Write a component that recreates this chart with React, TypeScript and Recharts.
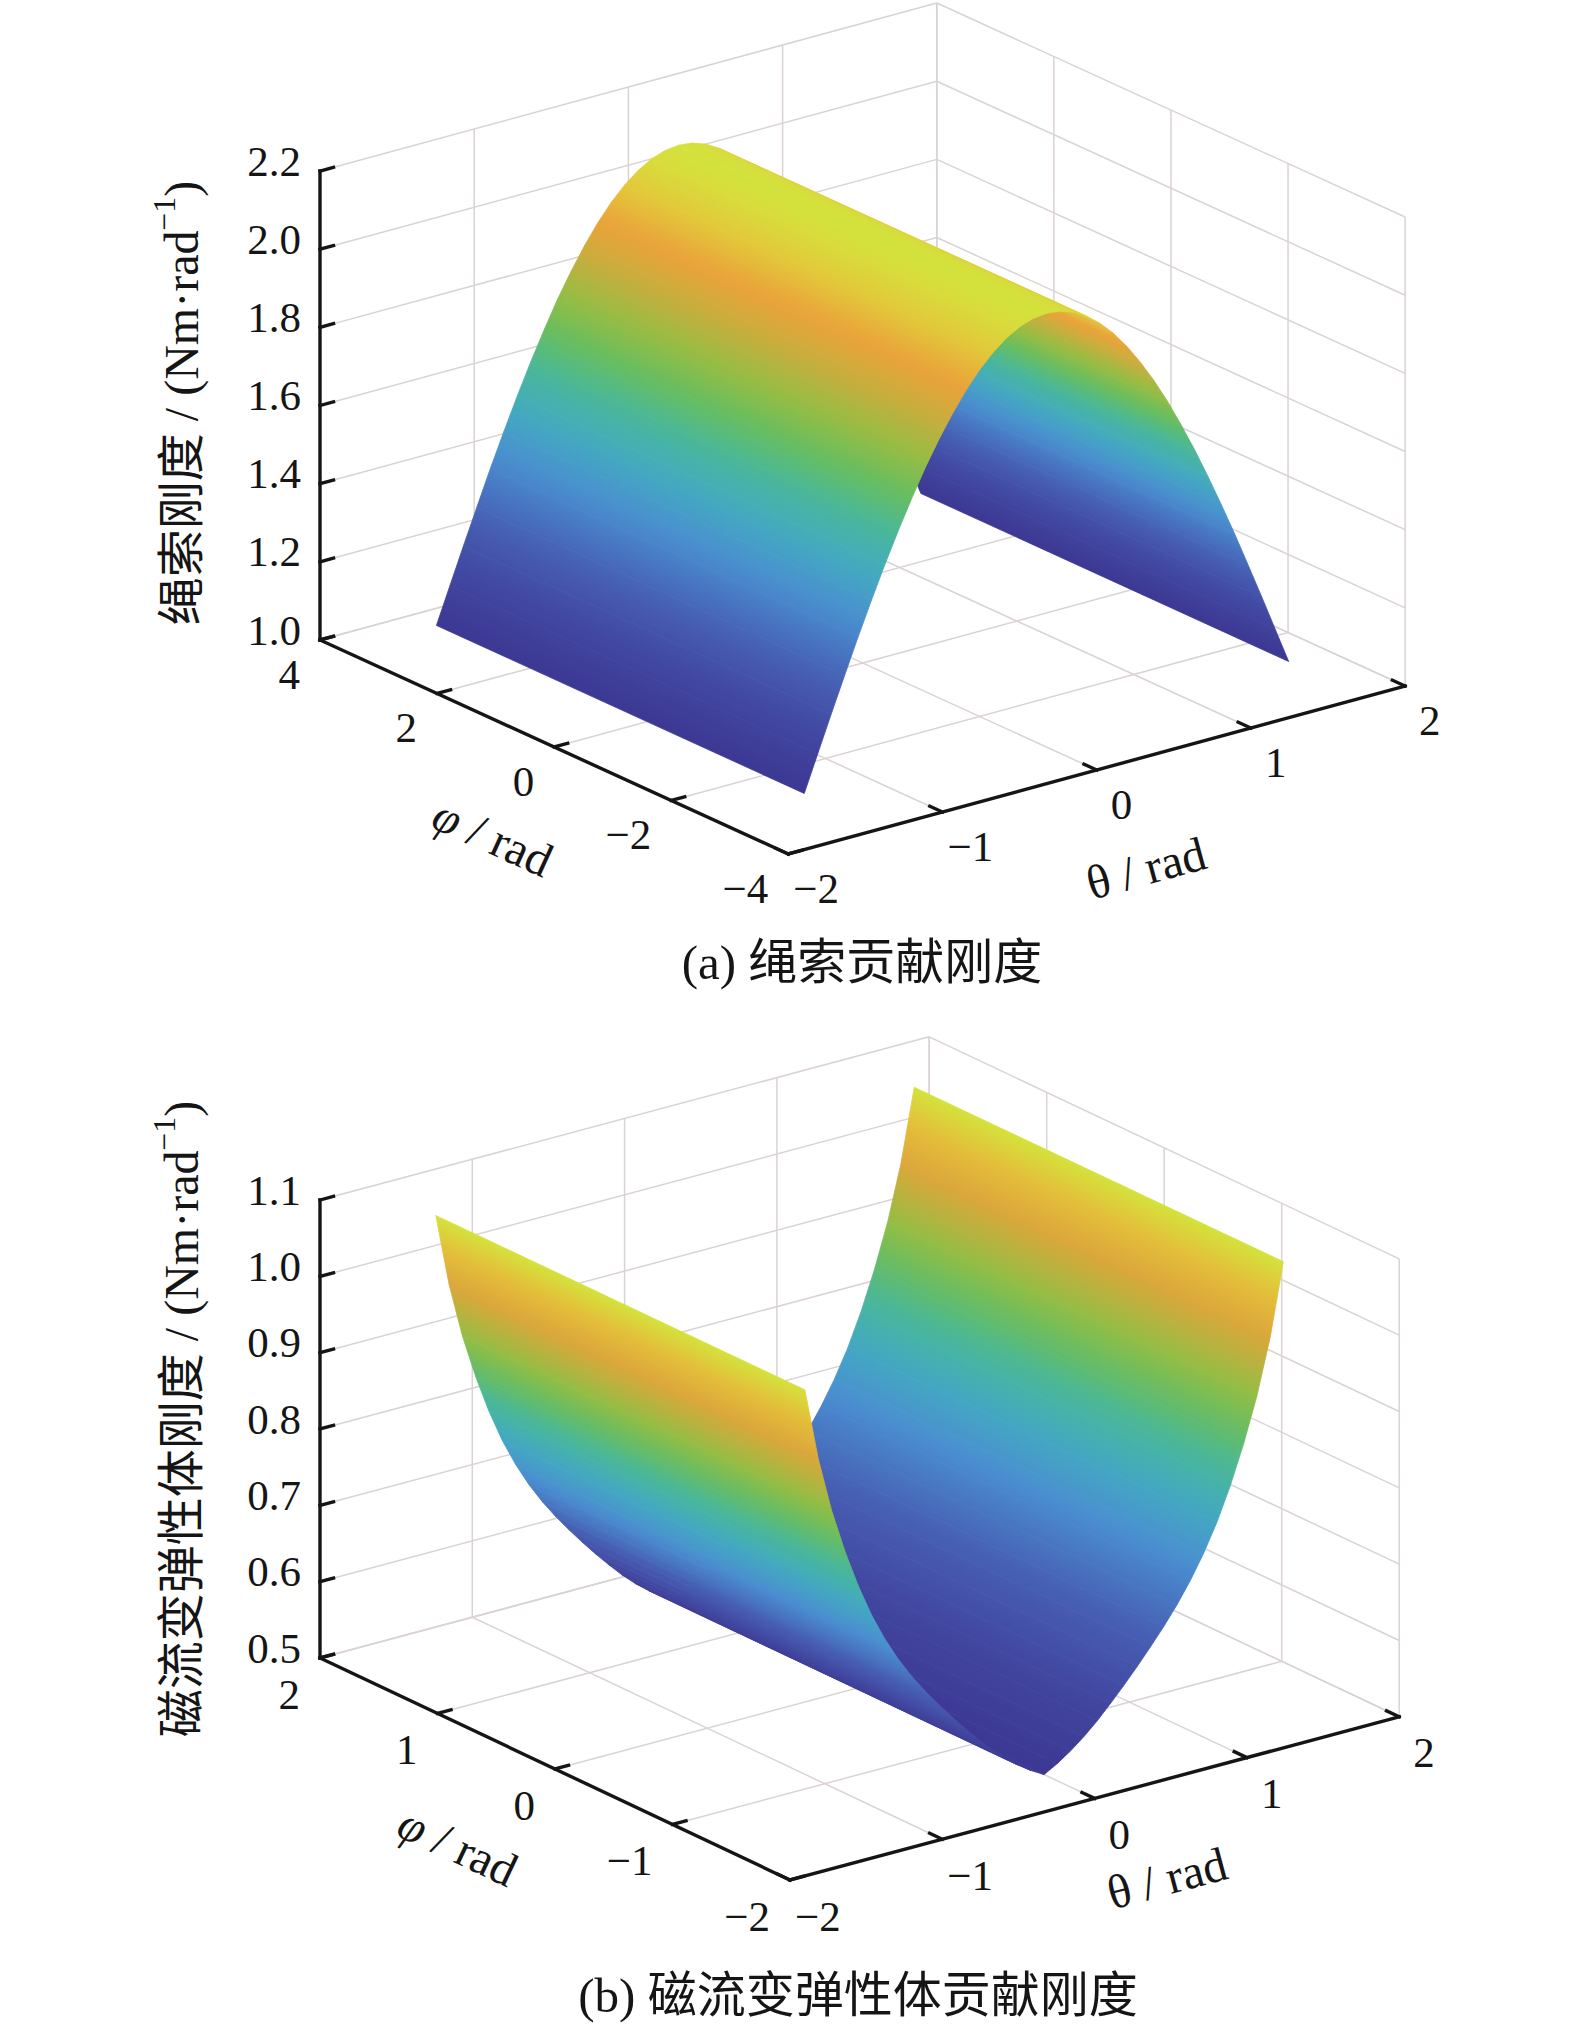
import React from 'react';
import { ScatterChart, Scatter, XAxis, YAxis } from 'recharts';

const W = 1575;
const H = 2041;

// θ sample positions (deg) of both surfaces
const thetaDeg = [
  -90, -85, -80, -75, -70, -65, -60, -55, -50, -45, -40, -35, -30, -25, -20, -15, -10, -5, 0,
  5, 10, 15, 20, 25, 30, 35, 40, 45, 50, 55, 60, 65, 70, 75, 80, 85, 90,
];

// (a) rope stiffness along θ, same for every φ (Nm/rad)
const ropeStiffness = [
  1.05, 1.142, 1.234, 1.324, 1.413, 1.498, 1.58, 1.658, 1.731, 1.8, 1.862, 1.918, 1.968, 2.011,
  2.046, 2.074, 2.094, 2.106, 2.11, 2.106, 2.094, 2.074, 2.046, 2.011, 1.968, 1.918, 1.862, 1.8,
  1.731, 1.658, 1.58, 1.498, 1.413, 1.324, 1.234, 1.142, 1.05,
];

// (b) MRE stiffness along θ, same for every φ (Nm/rad)
const mreStiffness = [
  1.088, 0.993, 0.921, 0.863, 0.813, 0.77, 0.734, 0.703, 0.676, 0.652, 0.63, 0.609, 0.589, 0.57,
  0.552, 0.536, 0.522, 0.51, 0.5, 0.51, 0.522, 0.536, 0.552, 0.57, 0.589, 0.609, 0.63, 0.652,
  0.676, 0.703, 0.734, 0.77, 0.813, 0.863, 0.921, 0.993, 1.088,
];

const ropePhiSpan = [-3.1416, 3.1416];
const mrePhiSpan = [-1.5708, 1.5708];

const thetaTicks = [-2, -1, 0, 1, 2];
const ropePhiTicks = [4, 2, 0, -2, -4];
const mrePhiTicks = [2, 1, 0, -1, -2];
const ropeZTicks = [1.0, 1.2, 1.4, 1.6, 1.8, 2.0, 2.2];
const mreZTicks = [0.5, 0.6, 0.7, 0.8, 0.9, 1.0, 1.1];

const ropeZTitle = '绳索刚度';
const mreZTitle = '磁流变弹性体刚度';
const ropeCaption = '(a) 绳索贡献刚度';
const mreCaption = '(b) 磁流变弹性体贡献刚度';

const FONT = '"Liberation Serif", "Times New Roman", "Noto Sans CJK SC", serif';
const GRID = '#dad3d1';
const INK = '#151515';
const TICK = 14;

// parula-like map as it appears in the print
const CMAP: [number, string][] = [
  [0.0, '#3c3894'],
  [0.12, '#4247a0'],
  [0.24, '#4760b4'],
  [0.37, '#4a8ed0'],
  [0.47, '#43a9c1'],
  [0.56, '#48b79c'],
  [0.64, '#66bd62'],
  [0.72, '#95bd43'],
  [0.8, '#c8ae3d'],
  [0.87, '#eaa23a'],
  [0.94, '#e2c93a'],
  [1.0, '#d4e23c'],
];

const rgb = (h: string) => [1, 3, 5].map((i) => parseInt(h.slice(i, i + 2), 16));

function colorAt(t: number) {
  const v = Math.max(0, Math.min(1, t));
  let k = 0;
  while (k < CMAP.length - 2 && v > CMAP[k + 1][0]) k++;
  const [t0, c0] = CMAP[k];
  const [t1, c1] = CMAP[k + 1];
  const f = (v - t0) / (t1 - t0);
  const a = rgb(c0);
  const b = rgb(c1);
  return `rgb(${a.map((x, i) => Math.round(x + (b[i] - x) * f)).join(',')})`;
}

const fmt = (n: number) => (n < 0 ? '\u2212' + Math.abs(n) : String(n));

const panels = [
  {
    id: 'a',
    origin: [320, 640],
    phiStep: [58.54, 26.75],
    thetaStep: [154.2, -42],
    zStep: 390.8,
    phiLim: [-4, 4],
    thetaLim: [-2, 2],
    zLim: [1.0, 2.2],
    phiTicks: ropePhiTicks,
    zTicks: ropeZTicks,
    profile: ropeStiffness,
    phiSpan: ropePhiSpan,
    zTitle: ropeZTitle,
    caption: ropeCaption,
    tickDrop: 34,
    zTitlePos: [181, 403],
    phiTitlePos: [493, 837],
    thetaTitlePos: [1146, 868],
    captionPos: [862, 962],
  },
  {
    id: 'b',
    origin: [320, 1658],
    phiStep: [117.5, 55.5],
    thetaStep: [152.3, -40.8],
    zStep: 763.3,
    phiLim: [-2, 2],
    thetaLim: [-2, 2],
    zLim: [0.5, 1.1],
    phiTicks: mrePhiTicks,
    zTicks: mreZTicks,
    profile: mreStiffness,
    phiSpan: mrePhiSpan,
    zTitle: mreZTitle,
    caption: mreCaption,
    tickDrop: 36,
    zTitlePos: [181, 1419],
    phiTitlePos: [458, 1846],
    thetaTitlePos: [1167, 1878],
    captionPos: [858, 1995],
  },
];

type Pt = { x: number; y: number };

function buildPanel(p: (typeof panels)[number]) {
  const [phMin, phMax] = p.phiLim;
  const [thMin, thMax] = p.thetaLim;
  const [zMin, zMax] = p.zLim;
  const P = (phi: number, th: number, z: number): Pt => ({
    x: p.origin[0] + (phMax - phi) * p.phiStep[0] + (th - thMin) * p.thetaStep[0],
    y: p.origin[1] + (phMax - phi) * p.phiStep[1] + (th - thMin) * p.thetaStep[1] - (z - zMin) * p.zStep,
  });
  const seg = (arr: Pt[], a: Pt, b: Pt) => arr.push(a, b);

  // back walls and floor
  const grid: Pt[] = [];
  thetaTicks.forEach((t) => {
    seg(grid, P(phMax, t, zMin), P(phMin, t, zMin));
    seg(grid, P(phMax, t, zMin), P(phMax, t, zMax));
  });
  p.phiTicks.forEach((ph) => {
    seg(grid, P(ph, thMin, zMin), P(ph, thMax, zMin));
    seg(grid, P(ph, thMax, zMin), P(ph, thMax, zMax));
  });
  p.zTicks.forEach((z) => {
    seg(grid, P(phMax, thMin, z), P(phMax, thMax, z));
    seg(grid, P(phMax, thMax, z), P(phMin, thMax, z));
  });

  // surface strips, drawn from far (large θ) to near
  const th = thetaDeg.map((d) => (d * Math.PI) / 180);
  const zlo = Math.min(...p.profile);
  const zhi = Math.max(...p.profile);
  const norm = (z: number) => (z - zlo) / (zhi - zlo);
  const [sa, sb] = p.phiSpan;
  const surface: Pt[] = [];
  const colors: string[][] = [];
  for (let i = th.length - 2; i >= 0; i--) {
    const z0 = p.profile[i];
    const z1 = p.profile[i + 1];
    surface.push(P(sb, th[i], z0), P(sa, th[i], z0), P(sa, th[i + 1], z1), P(sb, th[i + 1], z1));
    colors.push([colorAt(norm(z0)), colorAt(norm((z0 + z1) / 2)), colorAt(norm(z1))]);
  }

  // axis lines and ticks
  const axes: Pt[] = [];
  const A = P(phMax, thMin, zMin);
  seg(axes, A, P(phMax, thMin, zMax));
  seg(axes, A, P(phMin, thMin, zMin));
  seg(axes, P(phMin, thMin, zMin), P(phMin, thMax, zMin));
  const dTh = TICK / Math.hypot(p.thetaStep[0], p.thetaStep[1]);
  const dPh = TICK / Math.hypot(p.phiStep[0], p.phiStep[1]);
  p.zTicks.forEach((z) => seg(axes, P(phMax, thMin, z), P(phMax, thMin + dTh, z)));
  p.phiTicks.forEach((ph) => seg(axes, P(ph, thMin, zMin), P(ph, thMin + dTh, zMin)));
  thetaTicks.forEach((t) => seg(axes, P(phMin, t, zMin), P(phMin + dPh, t, zMin)));

  // texts
  const labels: any[] = [];
  p.zTicks.forEach((z) => {
    const q = P(phMax, thMin, z);
    labels.push({ x: q.x - 19, y: q.y - 10, text: z.toFixed(1), anchor: 'end', size: 43 });
  });
  p.phiTicks.forEach((ph) => {
    const q = P(ph, thMin, zMin);
    labels.push({ x: q.x - 20, y: q.y + p.tickDrop, text: fmt(ph), anchor: 'end', size: 43 });
  });
  thetaTicks.forEach((t) => {
    const q = P(phMin, t, zMin);
    labels.push({ x: q.x + (t < 0 ? 5 : 14), y: q.y + p.tickDrop, text: fmt(t), anchor: 'start', size: 43 });
  });
  const phiAngle = (Math.atan2(p.phiStep[1], p.phiStep[0]) * 180) / Math.PI;
  const thAngle = (Math.atan2(p.thetaStep[1], p.thetaStep[0]) * 180) / Math.PI;
  labels.push({ x: p.zTitlePos[0], y: p.zTitlePos[1], text: p.zTitle, kind: 'ztitle', anchor: 'middle', size: 48, rotate: -90 });
  labels.push({ x: p.phiTitlePos[0], y: p.phiTitlePos[1], kind: 'phi', anchor: 'middle', size: 48, rotate: phiAngle });
  labels.push({ x: p.thetaTitlePos[0], y: p.thetaTitlePos[1], kind: 'theta', anchor: 'middle', size: 48, rotate: thAngle });
  labels.push({ x: p.captionPos[0], y: p.captionPos[1], text: p.caption, anchor: 'middle', size: 49 });

  return { id: p.id, grid, surface, colors, axes, labels };
}

const built = panels.map(buildPanel);

const NoDot = () => <g />;

const segmentsLine = (color: string, width: number, cap: 'butt' | 'square') => (lp: any) => {
  const pts: Pt[] = lp.points || [];
  const out = [];
  for (let i = 0; i + 1 < pts.length; i += 2) {
    out.push(
      <line
        key={i}
        x1={pts[i].x}
        y1={pts[i].y}
        x2={pts[i + 1].x}
        y2={pts[i + 1].y}
        stroke={color}
        strokeWidth={width}
        strokeLinecap={cap}
      />
    );
  }
  return <g>{out}</g>;
};

const stripsLine = (id: string, colors: string[][]) => (lp: any) => {
  const pts: Pt[] = lp.points || [];
  const defs = [];
  const polys = [];
  for (let k = 0; 4 * k + 3 < pts.length; k++) {
    const [p1, p2, p3, p4] = pts.slice(4 * k, 4 * k + 4);
    const ux = p2.x - p1.x;
    const uy = p2.y - p1.y;
    const dx = p4.x - p1.x;
    const dy = p4.y - p1.y;
    const f = (dx * ux + dy * uy) / (ux * ux + uy * uy || 1);
    const gx = dx - f * ux;
    const gy = dy - f * uy;
    const gid = `surf-${id}-${k}`;
    const c = colors[k];
    defs.push(
      <linearGradient key={gid} id={gid} gradientUnits="userSpaceOnUse" x1={p1.x} y1={p1.y} x2={p1.x + gx + 0.01} y2={p1.y + gy}>
        <stop offset="0" stopColor={c[0]} />
        <stop offset="0.5" stopColor={c[1]} />
        <stop offset="1" stopColor={c[2]} />
      </linearGradient>
    );
    polys.push(
      <polygon
        key={gid}
        points={`${p1.x},${p1.y} ${p2.x},${p2.y} ${p3.x},${p3.y} ${p4.x},${p4.y}`}
        fill={`url(#${gid})`}
        stroke={`url(#${gid})`}
        strokeWidth={0.8}
        strokeLinejoin="round"
      />
    );
  }
  return (
    <g>
      <defs>{defs}</defs>
      {polys}
    </g>
  );
};

const LabelShape = (props: any) => {
  const { cx, cy, payload } = props;
  if (cx == null || !payload) return <g />;
  const l = payload;
  const common: any = {
    x: cx,
    y: cy,
    textAnchor: l.anchor,
    dominantBaseline: 'central',
    fontSize: l.size,
    fontFamily: FONT,
    fill: INK,
    transform: l.rotate ? `rotate(${l.rotate} ${cx} ${cy})` : undefined,
  };
  if (l.kind === 'ztitle') {
    return (
      <text {...common}>
        {l.text} / (Nm·rad
        <tspan dy={-17} fontSize={l.size * 0.66}>
          {'\u22121'}
        </tspan>
        <tspan dy={17}>)</tspan>
      </text>
    );
  }
  if (l.kind === 'phi') {
    return (
      <text {...common}>
        <tspan fontStyle="italic">φ</tspan> / rad
      </text>
    );
  }
  if (l.kind === 'theta') {
    return <text {...common}>θ / rad</text>;
  }
  return <text {...common}>{l.text}</text>;
};

export default function App() {
  const series: React.ReactNode[] = [];
  built.forEach((b) => {
    series.push(
      <Scatter
        key={`grid-${b.id}`}
        data={b.grid}
        line={segmentsLine(GRID, 1.5, 'butt')}
        lineType="joint"
        shape={NoDot}
        isAnimationActive={false}
      />,
      <Scatter
        key={`surf-${b.id}`}
        data={b.surface}
        line={stripsLine(b.id, b.colors)}
        lineType="joint"
        shape={NoDot}
        isAnimationActive={false}
      />,
      <Scatter
        key={`axes-${b.id}`}
        data={b.axes}
        line={segmentsLine(INK, 3.4, 'square')}
        lineType="joint"
        shape={NoDot}
        isAnimationActive={false}
      />,
      <Scatter key={`text-${b.id}`} data={b.labels} shape={LabelShape} isAnimationActive={false} />
    );
  });

  return (
    <div style={{ position: 'absolute', left: 0, top: 0, width: W, height: H, background: '#ffffff' }}>
      <ScatterChart width={W} height={H} margin={{ top: 0, right: 0, bottom: 0, left: 0 }}>
        <XAxis type="number" dataKey="x" domain={[0, W]} allowDataOverflow hide />
        <YAxis type="number" dataKey="y" domain={[0, H]} reversed allowDataOverflow hide />
        {series}
      </ScatterChart>
    </div>
  );
}
